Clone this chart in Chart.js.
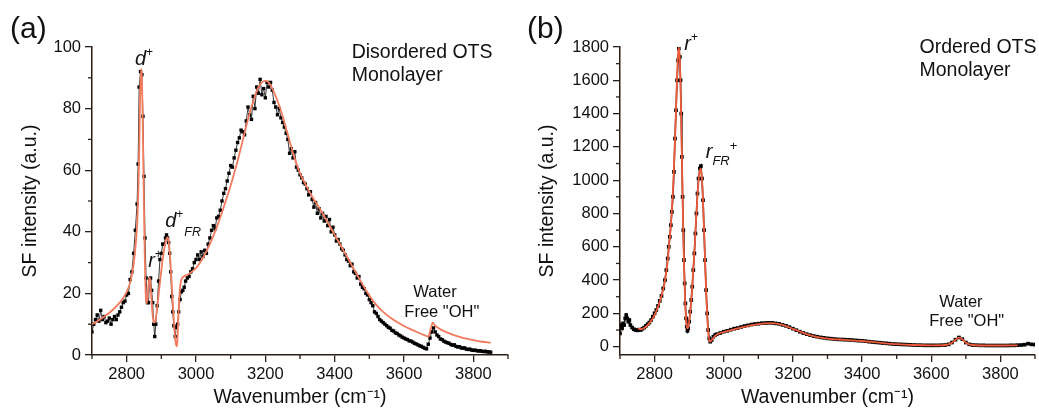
<!DOCTYPE html>
<html>
<head>
<meta charset="utf-8">
<script src="https://cdn.jsdelivr.net/npm/chart.js@4.4.1/dist/chart.umd.min.js"></script>
<style>
  body { margin: 0; background: #fff; }
  #wrap { position: relative; width: 1039px; height: 409px; overflow: hidden; background: #fff; }
  canvas { position: absolute; top: 0; }
  #chartA { left: 0; }
  #chartB { left: 520px; }
</style>
</head>
<body>
<div id="wrap">
  <canvas id="chartA" width="520" height="409"></canvas>
  <canvas id="chartB" width="519" height="409"></canvas>
</div>
<script>
const AXIS = '#2b1e17';
const FONT = '"Liberation Sans", Arial, Helvetica, sans-serif';

// ---- panel (a): disordered OTS monolayer ----
const WAVE_A = [
  2700,2705,2710,2715,2720,2725,2730,2735,2740,2745,
  2750,2755,2760,2765,2770,2775,2780,2785,2790,2795,
  2800,2805,2810,2815,2820,2825,2830,2833,2836,2840,
  2844,2847,2850,2853,2856,2860,2863,2866,2869,2872,
  2875,2878,2881,2884,2888,2892,2896,2900,2904,2908,
  2912,2915,2918,2921,2924,2927,2930,2933,2936,2940,
  2943,2947,2950,2954,2958,2962,2966,2970,2975,2980,
  2985,2990,2995,
  3000,3005,3010,3015,3020,3025,3030,3035,3040,3045,
  3050,3055,3060,3065,3070,3075,3080,3085,3090,3095,
  3100,3105,3110,3115,3120,3125,3130,3135,3140,3145,
  3150,3155,3160,3165,3170,3175,3180,3185,3190,3195,
  3200,3205,3210,3215,3220,3225,3230,3235,3240,3245,
  3250,3255,3260,3265,3270,3275,3280,3285,3290,3295,
  3300,3305,3310,3315,3320,3325,3330,3335,3340,3345,
  3350,3355,3360,3365,3370,3375,3380,3385,3390,3395,
  3400,3405,3410,3415,3420,3425,3430,3435,3440,3445,
  3450,3455,3460,3465,3470,3475,3480,3485,3490,3495,
  3500,3505,3510,3515,3520,3525,3530,3535,3540,3545,
  3550,3555,3560,3565,3570,3575,3580,3585,3590,3595,
  3600,3605,3610,3615,3620,3625,3630,3635,3640,3645,
  3650,3655,3660,3665,3670,3675,3680,3685,3690,3695,
  3700,3705,3710,3715,3720,3725,3730,3735,3740,3745,
  3750,3755,3760,3765,3770,3775,3780,3785,3790,3795,
  3800,3805,3810,3815,3820,3825,3830,3835,3840,3845,
  3850
];
const SF_A = [
  7.5,10,11.5,13,11,14.5,11.5,12.5,10.5,11,
  12,10,11.5,12.5,11.5,13,14,15.5,17,17.5,
  19.5,20,24.5,27,33,40.5,49,62,87,92,
  91,77.5,58,38,25,17,17,24.5,25,21,
  17,10,6,10,16,24,31,33,36,36,
  38,39,38,36.5,33,27,19,14,9.5,6,
  9,10,14,18,20.5,21,22,24,25,25.5,
  27,28,30,
  31,32.5,31,33.5,32,34,33,36,38,40.5,
  42,41,44.5,45,47,50,52.5,54,56.5,59,
  61.5,61,64,66.5,69,70.5,73,72.5,71.5,76,
  80.5,78,76.5,84,80,87,85,89.5,84.5,86.5,
  83.5,88.5,87,88.5,86,82,80.5,78,80,77,
  75.5,74,72,70,65.5,67,64,66,61,60,
  58.5,57.5,56,55.5,54,52,53,50.5,48,49.5,
  46,47.5,44.5,46,43.5,45,42,44,40,41.5,
  39,37,37.5,36,34.5,34,32.5,31,30.5,29,
  29.5,27,26.5,25,25.5,23,22,21.5,20,19.5,
  18,17,16,14,13.5,12.5,11.5,11,10.5,10,
  9.5,9,8.7,8,7.8,7.2,7,6.5,6.2,5.8,
  5.5,5.2,5,4.6,4.5,4.2,3.8,3.6,3.3,3,
  2.8,2.5,2.2,2,3.5,5.5,7.5,8.8,7.5,6.5,
  6,5.2,5,4.5,4.2,4,3.8,3.4,3.2,3.3,
  2.8,2.6,2.7,2.3,2.2,2.3,1.9,1.8,1.9,1.6,
  1.5,1.6,1.4,1.3,1.4,1.2,1.1,1.2,1,1,
  0.9
];
const FIT_WAVE_A = [
  2700,2720,2740,2760,2780,2790,2800,2810,2815,2820,
  2825,2830,2833,2836,2839,2842,2844,2846,2848,2850,
  2852,2854,2856,2858,2861,2864,2867,2870,2874,2878,
  2882,2886,2890,2895,2900,2905,2910,2915,2918,2921,
  2924,2927,2930,2933,2936,2939,2942,2944,2946,2948,
  2951,2954,2958,2965,2975,2985,2995,3000,3020,3040,
  3060,3080,3100,3110,3120,3130,3140,3150,3160,3170,
  3180,3190,3200,3210,3220,3230,3240,3250,3260,3270,
  3280,3290,3300,3320,3340,3360,3380,3400,3420,3440,
  3460,3480,3500,3520,3540,3560,3580,3600,3620,3640,
  3660,3670,3677,3683,3690,3700,3720,3740,3760,3780,
  3800,3825,3850
];
const FIT_A = [
  10,11.3,12.8,14.7,17,18.5,20.5,23.5,26,29.5,
  34.5,42,50,65,85,93,90,78,62,47,
  33,23,17.5,16.8,19.5,24,25,21,14,10.5,
  10.8,13.5,17.5,22.5,27.5,32,35.5,37.8,38.2,37,
  33.5,28.5,23,17,11.5,6.5,3.5,2.8,4,9,
  17,22,24.5,25.5,26,26.8,27.7,28.2,31.5,36,
  41.5,48,55,59,63,67.5,72,76.5,80.5,84,
  87,88.5,89,88.5,86.5,84,81,77.5,73.5,69.5,
  65.5,62,59,54.5,50.5,47,43,39,35,31,
  27,23,19.3,16.3,14,12.2,10.7,9.4,8.3,7.3,
  6.4,6,8.5,10.5,9.5,8.7,7.5,6.6,5.9,5.3,
  4.8,4.3,4
];
const X_TICKS = [2800, 3000, 3200, 3400, 3600, 3800];
const Y_TICKS_A = [0, 20, 40, 60, 80, 100];

// ---- panel (b): ordered OTS monolayer ----
const WAVE_B = [
  2700,2703,2706,2709,2712,2715,2718,2721,2724,2727,
  2730,2735,2740,2745,2750,2755,2760,2765,2770,2775,
  2780,2785,2790,2795,2800,2805,2810,2815,2820,2825,
  2830,2834,2838,2841,2844,2847,2850,2853,2856,2859,
  2862,2865,2868,2870,2873,2875,2877,2879,2881,2883,
  2885,2887,2889,2891,2893,2895,2897,2900,2903,2906,
  2909,2912,2915,2918,2921,2924,2927,2931,2934,2937,
  2940,2943,2946,2949,2952,2955,2958,2961,2965,2970,
  2975,2980,2990,
  3000,3010,3020,3030,3040,3050,3060,3070,3080,3090,
  3100,3110,3120,3130,3140,3150,3160,3170,3180,3190,
  3200,3210,3220,3230,3240,3250,3260,3270,3280,3290,
  3300,3310,3320,3330,3340,3350,3360,3370,3380,3390,
  3400,3410,3420,3430,3440,3450,3460,3470,3480,3490,
  3500,3510,3520,3530,3540,3550,3560,3570,3580,3590,
  3600,3610,3620,3630,3640,3650,3660,3670,3680,3690,
  3700,3710,3720,3730,3740,3750,3760,3770,3780,3790,
  3800,3810,3820,3830,3840,3850,3860,3870,3880,3890,
  3900
];
const SF_B = [
  80,130,110,140,130,170,190,170,150,160,
  130,115,105,100,98,102,100,108,115,125,
  135,145,160,180,200,220,245,275,305,350,
  400,460,530,600,660,730,810,900,1050,1250,
  1420,1600,1720,1790,1740,1600,1400,1140,900,700,
  520,380,260,170,120,95,110,150,210,280,
  360,460,560,680,800,920,1010,1070,1085,1010,
  880,700,520,340,200,100,50,30,40,60,
  70,75,82,
  90,95,102,108,112,118,124,128,133,136,
  138,141,142,143,143,140,137,131,125,117,
  108,99,90,82,75,69,64,60,56,53,
  50,48,46,44,43,42,41,40,38,36,
  35,33,30,28,26,24,22,20,18,16,
  15,14,13,12,11,10,9,9,8,8,
  8,8,8,9,10,14,25,42,55,45,
  25,14,10,9,8,8,7,7,7,7,
  7,7,7,8,8,9,10,12,18,14,
  12
];
const FIT_WAVE_B = [
  2752,2760,2770,2780,2790,2800,2810,2820,2830,2840,
  2850,2855,2860,2864,2867,2870,2873,2876,2879,2882,
  2885,2888,2891,2894,2897,2900,2905,2910,2915,2920,
  2925,2930,2934,2937,2940,2944,2948,2952,2956,2960,
  2965,2975,2990,3000,3050,3100,3140,3180,3200,3250,
  3300,3350,3400,3450,3500,3550,3600,3640,3660,3670,
  3680,3690,3700,3720,3760,3800,3850
];
const FIT_B = [
  110,105,112,130,155,190,240,305,395,560,
  820,1020,1300,1560,1730,1800,1720,1480,1130,790,
  500,290,160,110,115,150,250,400,570,760,
  940,1050,1070,1010,880,640,390,190,70,30,
  40,65,82,88,115,136,141,124,107,68,
  49,41,34,24,15,10,8,10,24,41,
  54,44,24,10,7,7,8
];
const Y_TICKS_B = [0, 200, 400, 600, 800, 1000, 1200, 1400, 1600, 1800];

// text annotations, anchored in data units: [text, size, italic, dx, dy]
const LABELS_A = [
  { x: 2824, y: 94.2, parts: [['d', 20, true], ['+', 12, false, 0, -9]] },
  { x: 2862, y: 28.7, parts: [['r', 20, true], ['+', 12, false, 0, -9]] },
  { x: 2911, y: 41.6, parts: [['d', 20, true], ['+', 12, false, 0, -9], ['FR', 12.5, true, 1, 9]] },
  { x: 3449, y: 96.5, parts: [['Disordered OTS', 19.5]] },
  { x: 3449, y: 88.9, parts: [['Monolayer', 19.5]] },
  { x: 3627, y: 18.8, parts: [['Water', 16.5]] },
  { x: 3601, y: 12.3, parts: [['Free "OH"', 16.5]] }
];
const LABELS_B = [
  { x: 2886, y: 1780, parts: [['r', 20, true], ['+', 12, false, 0, -9]] },
  { x: 2948, y: 1132, parts: [['r', 20, true], ['FR', 13, true, 0, 7], ['+', 13, false, 0, -8]] },
  { x: 3566, y: 1762, parts: [['Ordered OTS', 19.5]] },
  { x: 3566, y: 1624, parts: [['Monolayer', 19.5]] },
  { x: 3623, y: 240, parts: [['Water', 16.5]] },
  { x: 3594, y: 124, parts: [['Free "OH"', 16.5]] }
];

const pairs = (xs, ys) => xs.map((x, i) => ({ x: x, y: ys[i] }));

// minor ticks + annotations
const panelText = {
  id: 'panelText',
  afterDraw(chart, args, opts) {
    const ctx = chart.ctx;
    const xs = chart.scales.x, ys = chart.scales.y;
    ctx.save();
    ctx.strokeStyle = AXIS;
    ctx.lineWidth = 1.3;
    const majX = xs.ticks.map(t => t.value);
    for (let v = Math.ceil(xs.min / opts.minorX) * opts.minorX; v <= xs.max; v += opts.minorX) {
      if (majX.includes(v)) continue;
      const p = xs.getPixelForValue(v);
      ctx.beginPath(); ctx.moveTo(p, xs.top); ctx.lineTo(p, xs.top + 4); ctx.stroke();
    }
    const majY = ys.ticks.map(t => t.value);
    for (let v = Math.ceil(ys.min / opts.minorY) * opts.minorY; v <= ys.max; v += opts.minorY) {
      if (majY.includes(v)) continue;
      const p = ys.getPixelForValue(v);
      ctx.beginPath(); ctx.moveTo(ys.right, p); ctx.lineTo(ys.right - 4, p); ctx.stroke();
    }

    ctx.fillStyle = '#111';
    ctx.textAlign = 'left';
    ctx.textBaseline = 'alphabetic';
    opts.labels.forEach(l => {
      let px = xs.getPixelForValue(l.x);
      const py = ys.getPixelForValue(l.y);
      l.parts.forEach(([t, size, ital, dx, dy]) => {
        ctx.font = (ital ? 'italic ' : '') + size + 'px ' + FONT;
        px += dx || 0;
        ctx.fillText(t, px, py + (dy || 0));
        px += ctx.measureText(t).width;
      });
    });
    ctx.font = '30px ' + FONT;
    ctx.fillText(opts.letter, opts.letterX, opts.letterY);
    ctx.restore();
  }
};

function makePanel(id, o) {
  return new Chart(document.getElementById(id), {
    type: 'line',
    data: {
      datasets: [
        {
          data: pairs(o.fitX, o.fitY),
          borderColor: o.fitColor,
          borderWidth: 1.8,
          pointRadius: 0,
          cubicInterpolationMode: 'monotone',
          order: 0
        },
        {
          data: pairs(o.dataX, o.dataY),
          borderColor: '#222',
          borderWidth: o.dataLine,
          pointStyle: 'rect',
          pointRadius: o.pointR,
          pointBackgroundColor: '#000',
          pointBorderWidth: 0,
          tension: 0,
          order: 1
        }
      ]
    },
    options: {
      responsive: false,
      animation: false,
      events: [],
      layout: { padding: { top: 47, right: o.padRight, left: 0, bottom: 0 } },
      plugins: {
        legend: { display: false },
        tooltip: { enabled: false },
        panelText: {
          minorX: 100, minorY: o.minorY, labels: o.labels,
          letter: o.letter, letterX: o.letterX, letterY: 38
        }
      },
      scales: {
        x: {
          type: 'linear',
          min: 2700, max: 3900,
          afterBuildTicks: s => { s.ticks = X_TICKS.map(v => ({ value: v })); },
          afterFit: s => { s.height = 54; },
          ticks: { font: { family: FONT, size: 16.5 }, color: '#111', padding: 3, maxRotation: 0,
                   callback: v => String(v) },
          grid: { drawOnChartArea: false, drawTicks: true, tickLength: 7, color: AXIS, lineWidth: 1.3 },
          border: { display: true, color: AXIS, width: 1.5 },
          title: {
            display: true, text: 'Wavenumber (cm\u207B\u00B9)', color: '#111',
            font: { family: FONT, size: 19.5 }, padding: { top: 0, bottom: 0 }
          }
        },
        y: {
          min: o.yMin, max: o.yMax,
          afterBuildTicks: s => { s.ticks = o.yTicks.map(v => ({ value: v })); },
          afterFit: s => { s.width = o.axisLeft; },
          ticks: { font: { family: FONT, size: 16.5 }, color: '#111', padding: 4,
                   callback: v => String(v) },
          grid: { drawOnChartArea: false, drawTicks: true, tickLength: 7, color: AXIS, lineWidth: 1.3 },
          border: { display: true, color: AXIS, width: 1.5 },
          title: {
            display: true, text: 'SF intensity (a.u.)', color: '#111',
            font: { family: FONT, size: 19.5 }, padding: { top: o.titlePad, bottom: 0 }
          }
        }
      }
    },
    plugins: [panelText]
  });
}

makePanel('chartA', {
  dataX: WAVE_A, dataY: SF_A, fitX: FIT_WAVE_A, fitY: FIT_A,
  fitColor: '#f27b5e', yMin: 0, yMax: 100, yTicks: Y_TICKS_A, minorY: 10,
  axisLeft: 92, padRight: 12, titlePad: 18.6, pointR: 2.4, dataLine: 0.9,
  labels: LABELS_A, letter: '(a)', letterX: 10
});
makePanel('chartB', {
  dataX: WAVE_B, dataY: SF_B, fitX: FIT_WAVE_B, fitY: FIT_B,
  fitColor: '#ee5a3a', yMin: -50, yMax: 1800, yTicks: Y_TICKS_B, minorY: 100,
  axisLeft: 100, padRight: 1, titlePad: 16.3, pointR: 2.6, dataLine: 1.6,
  labels: LABELS_B, letter: '(b)', letterX: 7
});
</script>
</body>
</html>
